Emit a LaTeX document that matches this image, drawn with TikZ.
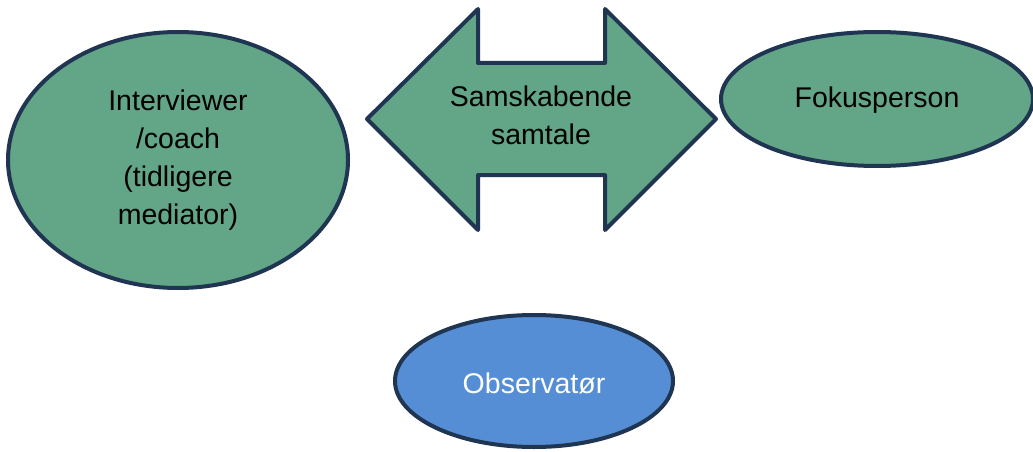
\documentclass[tikz,border=0pt]{standalone}
\usepackage{fontspec}
\setmainfont{Liberation Sans}
\usetikzlibrary{shapes.geometric}
\definecolor{gfill}{HTML}{62A587}
\definecolor{bfill}{HTML}{558ED5}
\definecolor{edge}{HTML}{1F3552}
\begin{document}
\begin{tikzpicture}[x=1pt,y=-1pt,
  shapeline/.style={draw=edge, line width=4pt, line join=round},
  oval/.style={shapeline, ellipse, inner sep=0pt},
  lbl/.style={font=\fontsize{28.5}{38}\selectfont, align=center, inner sep=0pt}]
\useasboundingbox (0,0) rectangle (1033,452);
% left ellipse
\node[oval, fill=gfill, minimum width=340pt, minimum height=256pt] (inter) at (178,160) {};
\node[lbl] (intertext) at (178,160) {Interviewer\\/coach\\(tidligere\\mediator)};
% double arrow
\draw[shapeline, fill=gfill] (367,119) -- (478,9) -- (478,63) -- (605,63) -- (605,9) -- (716,119)
  -- (605,230) -- (605,175) -- (478,175) -- (478,230) -- cycle;
\node[lbl] (arrowtext) at (541,115) {Samskabende\\samtale};
% right ellipse
\node[oval, fill=gfill, minimum width=312pt, minimum height=134pt] (fokus) at (877,99) {};
\node[lbl] (fokustext) at (877,100) {Fokusperson};
% bottom ellipse
\node[oval, fill=bfill, minimum width=278pt, minimum height=132pt] (obs) at (534,381) {};
\node[lbl, text=white] (obstext) at (534,383) {Observatør};
\end{tikzpicture}
\end{document}
